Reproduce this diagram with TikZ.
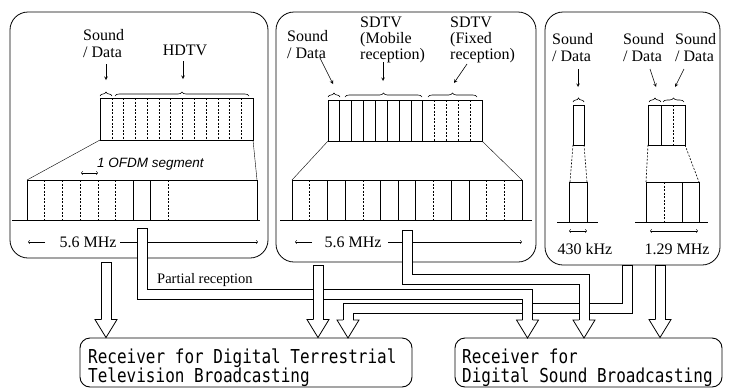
\documentclass[tikz,border=0pt]{standalone}
\usepackage{fontspec}
\usepackage{graphicx}
\setmainfont{Liberation Serif}
\newfontfamily\segfont{Liberation Sans}
\newfontfamily\rxfont{DejaVu Sans Mono}
\usetikzlibrary{positioning,calc,decorations.pathreplacing}

\newcommand\rxline[1]{\scalebox{1}[1.2]{#1}}
\newcommand\rxsetup{\rxfont\fontsize{16}{19}\selectfont\lineskiplimit=-8pt\relax}
\newcommand\hollowhead[1]{\filldraw[fill=white, line width=0.8pt] ([shift={(-5,-18)}]#1) -- ++(-6,0) -- (#1) -- ++(11,-18) -- ++(-6,0);}

\begin{document}
\begin{tikzpicture}[x=1pt, y=-1pt, line join=miter,
        panel/.style={draw, line width=0.8pt, rounded corners=18pt, inner sep=0pt},
        chanbox/.style={draw, line width=1pt},
        segdash/.style={line width=0.4pt, dash pattern=on 2pt off 1.5pt},
        segsolid/.style={line width=0.8pt},
        chanlabel/.style={font=\fontsize{16}{17}\selectfont, align=left, inner sep=0pt, anchor=north west},
        mhz/.style={font=\fontsize{16}{17}\selectfont, inner sep=0pt, anchor=base},
        pointer/.style={-stealth, line width=0.6pt},
        spanarrow/.style={->, line width=0.5pt},
        cbrace/.style={decorate, decoration={brace, amplitude=4pt}, line width=0.6pt},
        pipe/.style={draw, fill=white, line width=0.8pt},
        receiver/.style={draw, line width=0.9pt, rounded corners=10pt, inner sep=0pt},
        rxtext/.style={anchor=north west, inner sep=0pt, align=left, font=\rxsetup}]
    \useasboundingbox (0,0) rectangle (729,389);
    % Panels
    \node[panel, minimum width=258pt, minimum height=246pt] (hdtv) at (139,135) {};
    \node[panel, minimum width=260pt, minimum height=250pt] (sdtv) at (406,137) {};
    \node[panel, minimum width=175pt, minimum height=253pt] (dsb) at (632.5,138.5) {};

    % HDTV panel
    \node[chanlabel] (hdtvsd) at (83,29) {Sound\\/ Data};
    \node[mhz] (hdtvlbl) at (185,55) {HDTV};
    \draw[pointer] (106,64) -- (106,80);
    \draw[pointer] (183,61) -- (183,79);
    \draw[cbrace] (100,96) -- (112,96);
    \draw[cbrace] (115,96) -- (249,96);
    \draw[chanbox] (100,98) rectangle (253,140);
    \foreach \k in {1,...,12} {
        \draw[segdash] ({100+11.77*\k},98) -- ++(0,42);
    }
    \draw (100,140) -- (27,180);
    \draw (253,140) -- (257,180);
    \node[font=\segfont\itshape\fontsize{13.5}{14}\selectfont, inner sep=0pt, anchor=base west] (ofdm) at (97,167) {1 OFDM segment};
    \draw[spanarrow, <->] (81,173) -- (98,173);
    \draw[chanbox] (27,180) rectangle (257,220);
    \foreach \k in {1,...,5,8,...,12} {
        \draw[segdash] ({27+17.69*\k},180) -- ++(0,40);
    }
    \foreach \k in {6,7} {
        \draw[segsolid] ({27+17.69*\k},180) -- ++(0,40);
    }
    \draw[chanbox] (12,220) -- (260,220);
    \draw[spanarrow] (45,242) -- (28,242);
    \node[mhz] (hdtvbw) at (88,247) {5.6 MHz};
    \draw[spanarrow] (120,242) -- (258,242);

    % SDTV panel
    \node[chanlabel] (sdtvsd) at (287,30) {Sound\\/ Data};
    \node[chanlabel, font=\fontsize{16}{16}\selectfont] (mobile) at (360,17) {SDTV\\(Mobile\\reception)};
    \node[chanlabel, font=\fontsize{16}{16}\selectfont] (fixed) at (450,17) {SDTV\\(Fixed\\reception)};
    \draw[pointer] (320,58) -- (333,84);
    \draw[pointer] (383,62) -- (383,81);
    \draw[pointer] (467,64) -- (454,83);
    \draw[cbrace] (328,97) -- (340,97);
    \draw[cbrace] (345,97) -- (422,97);
    \draw[cbrace] (428,97) -- (477,97);
    \draw[chanbox] (328,100) rectangle (482,141);
    \foreach \k in {1,8} {
        \draw[chanbox] ({328+11.85*\k},100) -- ++(0,41);
    }
    \foreach \k in {2,...,7} {
        \draw[segsolid] ({328+11.85*\k},100) -- ++(0,41);
    }
    \foreach \k in {9,...,12} {
        \draw[segdash] ({328+11.85*\k},100) -- ++(0,41);
    }
    \draw (328,141) -- (292,180);
    \draw (482,141) -- (522,180);
    \draw[chanbox] (292,180) rectangle (522,220);
    \foreach \k in {1,4,8,11,12} {
        \draw[segdash] ({292+17.69*\k},180) -- ++(0,40);
    }
    \foreach \k in {2,3,5,6,7,9,10} {
        \draw[segsolid] ({292+17.69*\k},180) -- ++(0,40);
    }
    \draw[chanbox] (280,220) -- (532,220);
    \draw[spanarrow] (312,242) -- (295,242);
    \node[mhz] (sdtvbw) at (353,247) {5.6 MHz};
    \draw[spanarrow] (388,242) -- (522,242);

    % Sound broadcasting panel
    \node[chanlabel] (dsbsd1) at (552,33) {Sound\\/ Data};
    \node[chanlabel] (dsbsd2) at (623,33) {Sound\\/ Data};
    \node[chanlabel] (dsbsd3) at (675,33) {Sound\\/ Data};
    \draw[pointer] (578,69) -- (578,87);
    \draw[pointer] (650,69) -- (656,87);
    \draw[pointer] (684,69) -- (675,87);
    \draw[cbrace] (573,102) -- (584,102);
    \draw[cbrace] (649,102) -- (661,102);
    \draw[cbrace] (663,102) -- (684,102);
    \draw[chanbox] (573,105) rectangle (584,145);
    \draw[chanbox] (648,105) rectangle (685,145);
    \draw[segsolid] (661,105) -- (661,145);
    \draw[segdash] (673,105) -- (673,145);
    \draw[segdash, line width=0.6pt] (573,145) -- (570,182);
    \draw[segdash, line width=0.6pt] (584,145) -- (587,182);
    \draw[segdash, line width=0.6pt] (648,145) -- (646,182);
    \draw[segdash, line width=0.6pt] (685,145) -- (699,182);
    \draw[chanbox] (569,182) rectangle (587,222);
    \draw[chanbox] (646,182) rectangle (699,222);
    \draw[segdash] (664,182) -- (664,222);
    \draw[segsolid] (682,182) -- (682,222);
    \draw[chanbox] (557,222) -- (598,222);
    \draw[chanbox] (635,222) -- (708,222);
    \draw[spanarrow, <->] (569,231) -- (587,231);
    \draw[spanarrow, <->] (650,231) -- (698,231);
    \node[mhz] (narrowbw) at (585,254) {430 kHz};
    \node[mhz] (widebw) at (677,254) {1.29 MHz};

    % Receivers
    \node[receiver, minimum width=332pt, minimum height=49pt] (rxtv) at (246,362.5) {};
    \node[receiver, minimum width=267pt, minimum height=49pt] (rxsnd) at (588.5,362.5) {};
    \node[rxtext] (rxtvtext) at (88,349) {\rxline{Receiver for Digital Terrestrial}\\\rxline{Television Broadcasting}};
    \node[rxtext] (rxsndtext) at (462,349) {\rxline{Receiver for}\\\rxline{Digital Sound Broadcasting}};

    % Pipe ends
    \coordinate (hdtvout) at (106,262);
    \coordinate (hdtvpr) at (142.5,228);
    \coordinate (sdtvout) at (318,265);
    \coordinate (sdtvpr) at (407,230);
    \coordinate (dsbleft) at (627,265);
    \coordinate (dsbright) at (660,265);
    \coordinate (tvin1) at (hdtvout |- rxtv.north);
    \coordinate (tvin2) at (sdtvout |- rxtv.north);
    \coordinate (tvin3) at (348,338);
    \coordinate (sndin1) at (527.5,338);
    \coordinate (sndin2) at (584,338);
    \coordinate (sndin3) at (dsbright |- rxsnd.north);

    % Routes
    \path[pipe] ([xshift=5pt]dsbleft) -- ++(0,48) -| ([xshift=5pt,yshift=17pt]tvin3)
        -- ([xshift=-5pt,yshift=17pt]tvin3) |- ([shift={(-5,38)}]dsbleft) -- ([xshift=-5pt]dsbleft) -- cycle;
    \hollowhead{tvin3}
    \path[pipe] ([xshift=-5pt]hdtvpr) -- ++(0,71) -| ([xshift=-5pt,yshift=17pt]sndin1)
        -- ([xshift=5pt,yshift=17pt]sndin1) |- ([shift={(5,61)}]hdtvpr) -- ([xshift=5pt]hdtvpr) -- cycle;
    \hollowhead{sndin1}
    \node[font=\fontsize{14.5}{15}\selectfont, inner sep=0pt, anchor=base west] (partial) at (157,283) {Partial reception};
    \path[pipe] ([xshift=-5pt]sdtvpr) -- ++(0,54) -| ([xshift=-5pt,yshift=17pt]sndin2)
        -- ([xshift=5pt,yshift=17pt]sndin2) |- ([shift={(5,44)}]sdtvpr) -- ([xshift=5pt]sdtvpr) -- cycle;
    \hollowhead{sndin2}
    \path[pipe] ([xshift=-5pt]hdtvout) rectangle ([xshift=5pt,yshift=17pt]tvin1);
    \hollowhead{tvin1}
    \path[pipe] ([xshift=-5pt]sdtvout) rectangle ([xshift=5pt,yshift=17pt]tvin2);
    \hollowhead{tvin2}
    \path[pipe] ([xshift=-5pt]dsbright) rectangle ([xshift=5pt,yshift=17pt]sndin3);
    \hollowhead{sndin3}
\end{tikzpicture}
\end{document}
